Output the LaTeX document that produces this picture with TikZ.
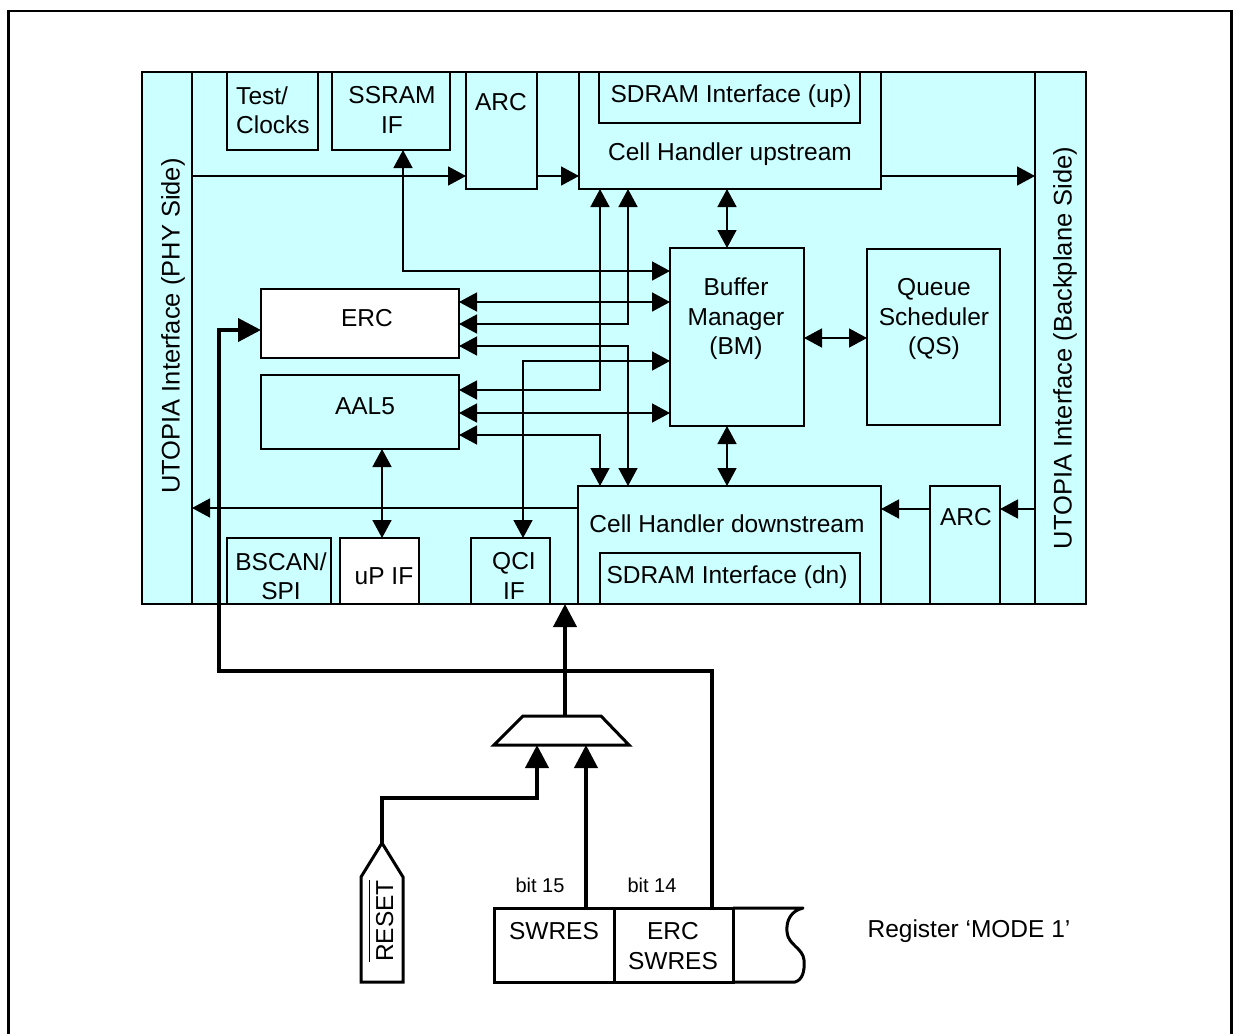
\documentclass[tikz,border=0pt]{standalone}
\usepackage{fontspec}
\setmainfont{Liberation Sans}
\usetikzlibrary{arrows.meta}
\definecolor{cy}{HTML}{CCFFFF}
\begin{document}
\begin{tikzpicture}[x=1pt,y=-1pt,
  blk/.style={draw, line width=2.4pt, fill=cy, inner sep=0pt, outer sep=0pt},
  wblk/.style={blk, fill=white},
  txt/.style={inner sep=0pt, align=center, font=\fontsize{24.5}{29.5}\selectfont},
  stxt/.style={inner sep=0pt, font=\fontsize{20}{24}\selectfont},
  con/.style={line width=1.6pt, >={Triangle[length=18pt,width=19pt]}},
  thk/.style={line width=4pt, >={Triangle[length=23pt,width=23pt]}},
]
\useasboundingbox (0,0) rectangle (1233,1034);
% outer frame
\draw[line width=2.6pt] (8.5,1034) -- (8.5,11) -- (1231.5,11) -- (1231.5,1034);

% chip
\node[blk, minimum width=944pt, minimum height=532pt] (chip) at (614,338) {};
\node[blk, minimum width=50pt, minimum height=532pt] (utl) at (167,338) {};
\node[blk, minimum width=51pt, minimum height=532pt] (utr) at (1060.5,338) {};
\node[txt, font=\fontsize{25.5}{29}\selectfont, rotate=90] (utlt) at (173,326) {UTOPIA Interface (PHY Side)};
\node[txt, font=\fontsize{25.5}{29}\selectfont, rotate=90] (utrt) at (1065,348) {UTOPIA Interface (Backplane Side)};

% top blocks
\node[blk, minimum width=91pt, minimum height=78pt] (test) at (272.5,111) {};
\node[txt, align=left] (testt) at (273,110) {Test/\\Clocks};
\node[blk, minimum width=118pt, minimum height=78pt] (ssram) at (391,111) {};
\node[txt] (ssramt) at (392,110) {SSRAM\\IF};
\node[blk, minimum width=71pt, minimum height=117pt] (arcu) at (501.5,130.5) {};
\node[txt] (arcut) at (501,102) {ARC};
\node[blk, minimum width=302pt, minimum height=117pt] (chu) at (730,130.5) {};
\node[blk, minimum width=261pt, minimum height=51pt] (sdu) at (729.5,97.5) {};
\node[txt] (sdut) at (731,96) {SDRAM Interface (up)};
\node[txt] (chut) at (730,154) {Cell Handler upstream};

% middle blocks
\node[blk, minimum width=134pt, minimum height=178pt] (bm) at (737,337) {};
\node[txt] (bmt) at (736,319) {Buffer\\Manager\\(BM)};
\node[blk, minimum width=133pt, minimum height=176pt] (qs) at (933.5,337) {};
\node[txt] (qst) at (934,319) {Queue\\Scheduler\\(QS)};
\node[wblk, minimum width=198pt, minimum height=69pt] (erc) at (360,323.5) {};
\node[txt] (erct) at (367,318) {ERC};
\node[blk, minimum width=198pt, minimum height=74pt] (aal5) at (360,412) {};
\node[txt] (aal5t) at (365,406) {AAL5};

% bottom blocks
\node[blk, minimum width=303pt, minimum height=118pt] (chd) at (729.5,545) {};
\node[txt] (chdt) at (727,524) {Cell Handler downstream};
\node[blk, minimum width=260pt, minimum height=51pt] (sdd) at (730,578.5) {};
\node[txt] (sddt) at (727,577) {SDRAM Interface (dn)};
\node[blk, minimum width=70pt, minimum height=118pt] (arcd) at (965,545) {};
\node[txt] (arcdt) at (966,517) {ARC};
\node[blk, minimum width=104pt, minimum height=66pt] (bscan) at (279,571) {};
\node[txt] (bscant) at (281,576) {BSCAN/\\SPI};
\node[wblk, minimum width=79pt, minimum height=66pt] (upif) at (379.5,571) {};
\node[txt] (upift) at (384,576) {uP IF};
\node[blk, minimum width=79pt, minimum height=66pt] (qci) at (510.5,571) {};
\node[txt] (qcit) at (514,576) {QCI\\IF};

% thin connectors
\draw[con,->] (utl.east |- 0,176) -- (arcu.west |- 0,176);
\draw[con,->] (arcu.east |- 0,176) -- (chu.west |- 0,176);
\draw[con,->] (chu.east |- 0,176) -- (utr.west |- 0,176);
\draw[con,<->] (ssram.south -| 403,0) -- (403,271) -- (bm.west |- 0,271);
\draw[con,<->] (erc.east |- 0,302) -- (bm.west |- 0,302);
\draw[con,<->] (chu.south -| 628,0) -- (628,324) -- (erc.east |- 0,324);
\draw[con,<->] (erc.east |- 0,346) -- (628,346) -- (chd.north -| 628,0);
\draw[con,<->] (qci.north -| 523,0) -- (523,361) -- (bm.west |- 0,361);
\draw[con,<->] (chu.south -| 600,0) -- (600,390) -- (aal5.east |- 0,390);
\draw[con,<->] (aal5.east |- 0,413) -- (bm.west |- 0,413);
\draw[con,<->] (aal5.east |- 0,435) -- (600,435) -- (chd.north -| 600,0);
\draw[con,<->] (bm.north -| 727,0) -- (chu.south -| 727,0);
\draw[con,<->] (bm.south -| 727,0) -- (chd.north -| 727,0);
\draw[con,<->] (bm.east |- 0,338) -- (qs.west |- 0,338);
\draw[con,->] (utr.west |- 0,509) -- (arcd.east |- 0,509);
\draw[con,->] (arcd.west |- 0,509) -- (chd.east |- 0,509);
\draw[con,->] (chd.west |- 0,508) -- (utl.east |- 0,508);
\draw[con,<->] (aal5.south -| 382,0) -- (upif.north -| 382,0);

% mux
\coordinate (mo) at (565,716);
\coordinate (mia) at (537,745);
\coordinate (mib) at (586,745);
\draw[line width=3pt, fill=white] (523,716) -- (601,716) -- (629,745) -- (494,745) -- cycle;

% register
\node[wblk, line width=3pt, minimum width=120pt, minimum height=74pt] (reg1) at (554,945) {};
\node[wblk, line width=3pt, minimum width=119pt, minimum height=74pt] (reg2) at (673.5,945) {};
\node[txt] (reg1t) at (554,931) {SWRES};
\node[txt] (reg2t) at (673,946) {ERC\\SWRES};
\coordinate (reg3) at (733,908);
\draw[line width=3pt, line join=round] (reg3) -- (803,908) .. controls (791,911) and (786,920) .. (787,932)
  .. controls (788,945) and (803,948) .. (804,960) .. controls (805,972) and (802,980) .. (795,982) -- (733,982);
\node[stxt] (b15) at (540,885) {bit 15};
\node[stxt] (b14) at (652,885) {bit 14};
\node[txt] (regl) at (969,931) {Register ‘MODE 1’};

% reset pin
\coordinate (rtip) at (382,843);
\draw[line width=3pt, fill=white] (rtip) -- (403,877) -- (403,982) -- (361,982) -- (361,877) -- cycle;
\node[txt, rotate=90, anchor=base] (rst) at (393,921) {$\overline{\hbox{\rule{0pt}{22pt}RESET}}$};

% thick connectors
\draw[thk,->] (mo) -- (chip.south -| mo);
\draw[thk,->] (reg2.north -| 712,0) -- (712,671) -- (219,671) -- (219,330) -- (erc.west |- 0,330);
\draw[thk,->] (rtip) -- (382,798) -- (537,798) -- (mia);
\draw[thk,->] (reg1.north -| 586,0) -- (mib);
\end{tikzpicture}
\end{document}
